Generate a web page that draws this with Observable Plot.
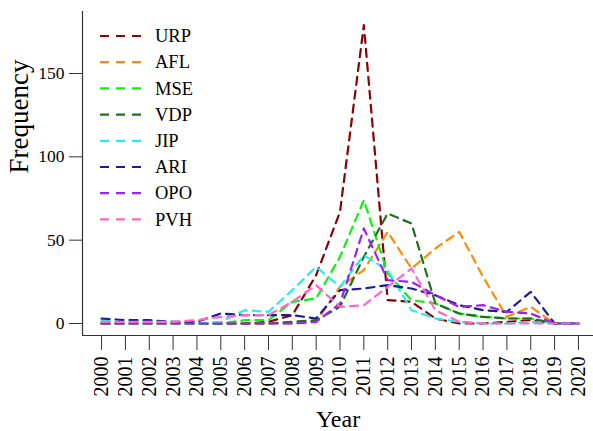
<!DOCTYPE html>
<html>
<head>
<meta charset="utf-8">
<script src="https://cdn.jsdelivr.net/npm/d3@7"></script>
<script src="https://cdn.jsdelivr.net/npm/@observablehq/plot@0.6"></script>
<style>
  html, body { margin: 0; padding: 0; background: white; }
</style>
</head>
<body>
<div id="chart"></div>
<script>
const years = d3.range(2000, 2021);
const seriesNames = ["URP", "AFL", "MSE", "VDP", "JIP", "ARI", "OPO", "PVH"];
const seriesColors = ["#8B0000", "#FF8C00", "#11EE11", "#1F6F1F", "#22EEEE", "#1C1C96", "#A020F0", "#FF66CC"];
const yTicks = [0, 50, 100, 150];

// values for 2000..2020
const URP = [0, 0, 0, 0, 0, 0, 0, 1, 5, 29, 67, 179, 14, 13, 3, 0, 0, 1, 2, 0, 0];
const AFL = [0, 0, 0, 0, 0, 0, 0, 0, 0, 1, 22, 32, 55, 33, 45, 55, 28, 4, 10, 0, 0];
const MSE = [0, 0, 0, 0, 0, 0, 2, 2, 13, 15, 40, 74, 30, 14, 12, 6, 4, 3, 3, 0, 0];
const VDP = [0, 0, 0, 0, 0, 0, 0, 0, 1, 2, 10, 40, 66, 60, 12, 6, 4, 3, 3, 0, 0];
const JIP = [2, 0, 0, 0, 0, 1, 8, 7, 20, 34, 22, 41, 32, 8, 3, 1, 0, 0, 1, 0, 0];
const ARI = [3, 2, 2, 1, 1, 6, 5, 5, 5, 3, 20, 21, 23, 21, 17, 11, 8, 7, 19, 0, 0];
const OPO = [0, 0, 0, 0, 0, 0, 0, 0, 0, 1, 12, 57, 26, 25, 17, 10, 11, 7, 6, 0, 0];
const PVH = [1, 1, 1, 1, 2, 4, 5, 5, 13, 23, 10, 11, 22, 33, 8, 1, 0, 0, 0, 0, 0];

const seriesValues = [URP, AFL, MSE, VDP, JIP, ARI, OPO, PVH];
const data = seriesNames.flatMap((s, i) =>
  seriesValues[i].map((v, j) => ({year: years[j], value: v, series: s}))
);

const font = "'Liberation Serif', 'Times New Roman', serif";
const xDom = [1999.2, 2020.8];
const yDom = [-7.2, 187.2];
const dash = "8,6";

const svg = Plot.plot({
  width: 593,
  height: 431,
  marginLeft: 82,
  marginRight: 0,
  marginTop: 11,
  marginBottom: 96,
  x: {domain: xDom, range: [82, 597]},
  y: {domain: yDom},
  color: {domain: seriesNames, range: seriesColors},
  style: {fontFamily: font, background: "white", color: "black"},
  marks: [
    Plot.line(data, {x: "year", y: "value", z: "series", stroke: "series", strokeWidth: 2.2, strokeDasharray: dash}),
    Plot.ruleX([xDom[0]], {stroke: "#333", strokeWidth: 1.2}),
    Plot.ruleY([yDom[0]], {stroke: "#333", strokeWidth: 1.2}),
    Plot.axisX({ticks: years, tickFormat: d => String(d), tickRotate: -90, tickSize: 15, tickPadding: 6,
      fontSize: 20, fontFamily: font, label: null, stroke: "#333", fill: "black"}),
    Plot.axisY({ticks: yTicks, tickSize: 13, tickPadding: 5, fontSize: 17.5, fontFamily: font, label: null, stroke: "#333", fill: "black"}),
    Plot.text(["Year"], {frameAnchor: "bottom", lineAnchor: "bottom", dy: 91, fontSize: 24, fontFamily: font, fill: "black"}),
    Plot.text(["Frequency"], {frameAnchor: "left", lineAnchor: "bottom", rotate: -90, dx: -55, fontSize: 27, fontFamily: font, fill: "black"})
  ]
});

// legend inside the plot area
const lg = d3.select(svg).append("g").attr("font-family", font).attr("text-anchor", "start");
seriesNames.forEach((s, i) => {
  const y = 36 + i * 26.2;
  lg.append("line")
    .attr("x1", 100).attr("x2", 141).attr("y1", y).attr("y2", y)
    .attr("stroke", seriesColors[i]).attr("stroke-width", 2.2)
    .attr("stroke-dasharray", "9,7");
  lg.append("text")
    .attr("x", 155).attr("y", y).attr("dy", "0.34em")
    .attr("font-size", 18.5).attr("fill", "black")
    .attr("text-anchor", "start")
    .text(s);
});

document.getElementById("chart").appendChild(svg);
</script>
</body>
</html>
